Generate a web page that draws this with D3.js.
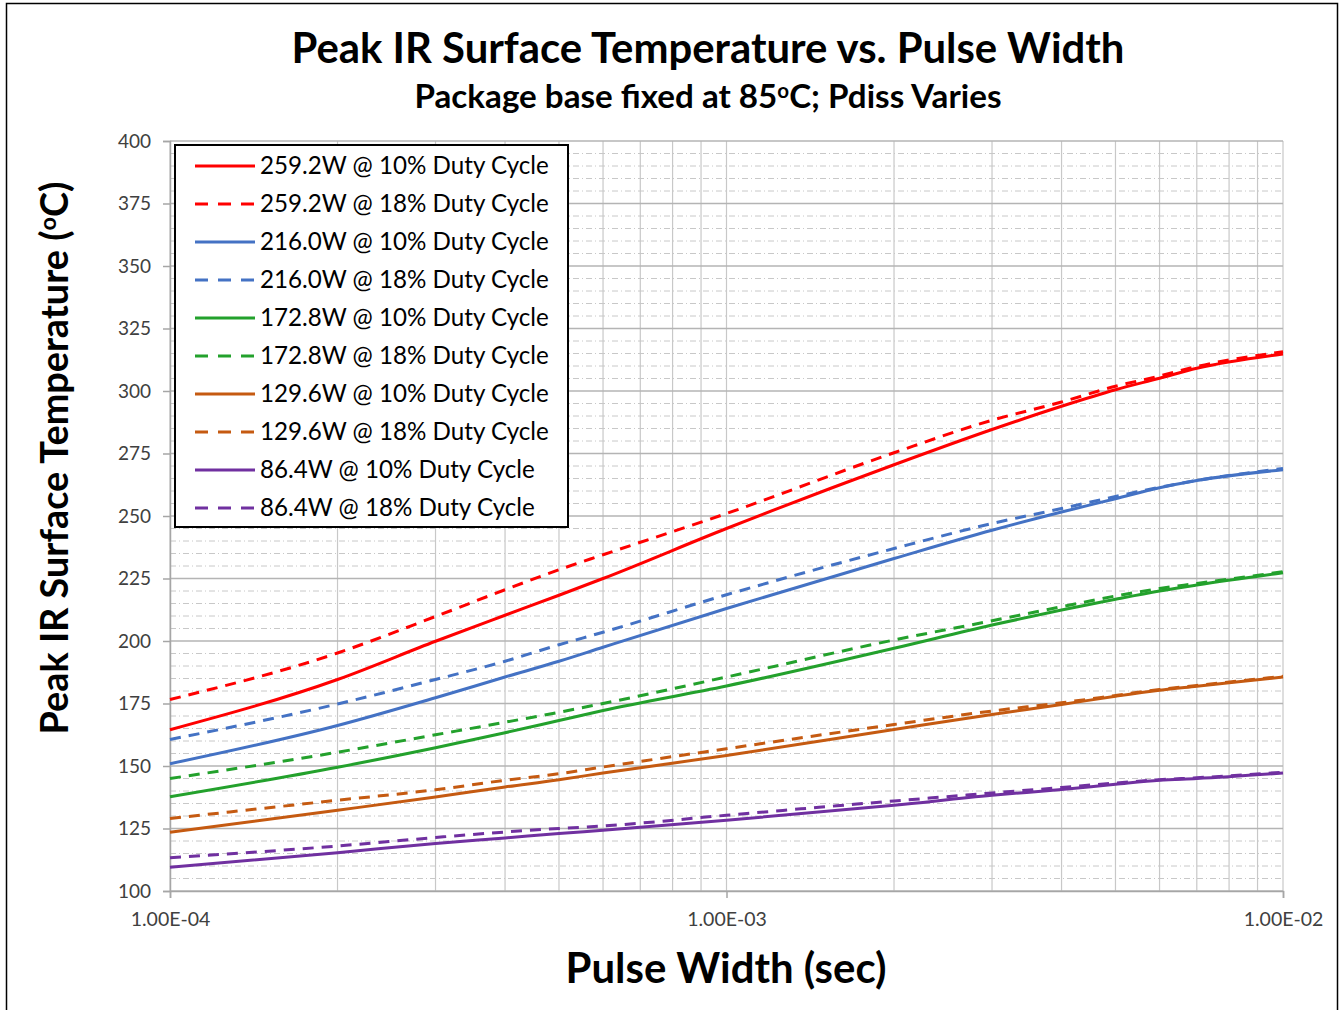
<!DOCTYPE html>
<html>
<head>
<meta charset="utf-8">
<script src="https://cdn.jsdelivr.net/npm/d3@7"></script>
<style>
  html, body { margin: 0; padding: 0; background: #fff; }
  svg { display: block; }
</style>
</head>
<body>
<svg id="chart" width="1339" height="1010"></svg>
<script>
// ---------- DATA ----------
const pulseWidths = [1e-4, 2e-4, 3e-4, 4e-4, 5e-4, 6e-4, 1e-3, 2e-3, 3e-3, 4e-3, 5e-3, 6e-3, 7e-3, 1e-2];

const w259_10 = [164.5, 184.6, 199.9, 210.3, 218.3, 225.0, 245.0, 270.5, 284.6, 293.9, 300.5, 305.1, 309.1, 314.8];
const w259_18 = [176.6, 195.2, 209.8, 220.5, 228.5, 234.5, 251.0, 275.3, 288.3, 295.6, 301.9, 306.0, 309.8, 315.7];
const w216_10 = [150.9, 166.2, 177.3, 185.6, 191.9, 197.5, 213.0, 233.0, 244.3, 251.6, 256.9, 261.3, 264.2, 268.5];
const w216_18 = [160.6, 174.8, 184.6, 191.9, 198.5, 203.5, 218.5, 237.0, 247.0, 253.0, 257.8, 261.5, 264.2, 269.0];
const w173_10 = [137.7, 149.5, 157.3, 163.3, 168.2, 172.2, 182.0, 197.1, 206.4, 212.4, 216.7, 220.0, 222.4, 227.3];
const w173_18 = [145.0, 155.5, 162.5, 167.5, 171.5, 175.0, 185.6, 200.4, 208.1, 213.7, 218.0, 221.0, 223.0, 227.7];
const w130_10 = [123.5, 132.3, 137.6, 141.6, 144.5, 147.2, 154.2, 164.6, 170.6, 174.6, 177.9, 180.3, 181.9, 185.6];
const w130_18 = [129.0, 136.3, 140.5, 144.3, 146.9, 149.6, 156.9, 166.6, 172.0, 175.3, 178.2, 180.6, 182.2, 185.9];
const w86_10  = [109.5, 115.3, 119.0, 121.2, 123.0, 124.3, 128.3, 134.3, 138.3, 140.6, 142.7, 144.3, 145.0, 147.2];
const w86_18  = [113.3, 118.0, 121.4, 123.6, 125.0, 126.0, 130.3, 136.0, 139.2, 141.4, 143.2, 144.5, 145.3, 147.5];

const seriesLabels = [
  "259.2W @ 10% Duty Cycle", "259.2W @ 18% Duty Cycle",
  "216.0W @ 10% Duty Cycle", "216.0W @ 18% Duty Cycle",
  "172.8W @ 10% Duty Cycle", "172.8W @ 18% Duty Cycle",
  "129.6W @ 10% Duty Cycle", "129.6W @ 18% Duty Cycle",
  "86.4W @ 10% Duty Cycle",  "86.4W @ 18% Duty Cycle"
];
const seriesValues = [w259_10, w259_18, w216_10, w216_18, w173_10, w173_18, w130_10, w130_18, w86_10, w86_18];
const seriesColors = ["#ff0000", "#ff0000", "#4472c4", "#4472c4", "#23a12c", "#23a12c", "#c55a11", "#c55a11", "#7030a0", "#7030a0"];
const seriesDashed = [false, true, false, true, false, true, false, true, false, true];

const yTicks = [100, 125, 150, 175, 200, 225, 250, 275, 300, 325, 350, 375, 400];
const xTicks = [1e-4, 1e-3, 1e-2];
const xTickLabels = ["1.00E-04", "1.00E-03", "1.00E-02"];

const titleText = "Peak IR Surface Temperature vs. Pulse Width";
const xAxisTitle = "Pulse Width (sec)";

// ---------- DRAWING ----------
(function () {
const svg = d3.select("#chart");
const pL = 170, pR = 1283, pT = 141, pB = 891;
const FONT = "Lato, 'Open Sans', 'Noto Sans', sans-serif";

const x = d3.scaleLog().domain([1e-4, 1e-2]).range([pL, pR]);
const y = d3.scaleLinear().domain([100, 400]).range([pB, pT]);

function fitWidth(sel, target) {
  const node = sel.node();
  const fs = parseFloat(sel.attr("font-size"));
  const w = node.getBBox().width;
  if (w > 0) sel.attr("font-size", fs * target / w);
}

// outer border
svg.append("rect").attr("x", 6.5).attr("y", 3.5).attr("width", 1331).attr("height", 1012)
  .attr("fill", "#fff").attr("stroke", "#000").attr("stroke-width", 1.5);

const grid = svg.append("g");
const minorY = d3.range(105, 400, 5).filter(v => v % 25 !== 0);
grid.selectAll(".hminor").data(minorY).join("line")
  .attr("x1", pL).attr("x2", pR)
  .attr("y1", d => y(d)).attr("y2", d => y(d))
  .attr("stroke", "#c8c8c8").attr("stroke-width", 1)
  .attr("stroke-dasharray", "6,3,1,3");
const vGrid = [];
[1e-4, 1e-3].forEach(dec => { for (let k = 1; k <= 9; k++) vGrid.push(dec * k); });
vGrid.push(1e-2);
grid.selectAll(".vgrid").data(vGrid).join("line")
  .attr("x1", d => x(d)).attr("x2", d => x(d))
  .attr("y1", pT).attr("y2", pB)
  .attr("stroke", "#c8c8c8").attr("stroke-width", 1.2);
grid.selectAll(".hmajor").data(yTicks).join("line")
  .attr("x1", pL).attr("x2", pR)
  .attr("y1", d => y(d)).attr("y2", d => y(d))
  .attr("stroke", "#b4b4b4").attr("stroke-width", 1.5);

// axes
const yAxis = d3.axisLeft(y).tickValues(yTicks).tickSize(7).tickPadding(12).tickFormat(d3.format("d"));
const gy = svg.append("g").attr("transform", `translate(${pL},0)`).call(yAxis);
gy.select(".domain").attr("stroke", "#a6a6a6").attr("stroke-width", 1.5);
gy.selectAll(".tick line").attr("stroke", "#a6a6a6").attr("stroke-width", 1.5);
gy.selectAll(".tick text").attr("font-family", FONT).attr("font-size", 19).attr("fill", "#404040");

const xAxis = d3.axisBottom(x).tickValues(xTicks).tickSize(7).tickPadding(14)
  .tickFormat((d, i) => xTickLabels[i]);
const gx = svg.append("g").attr("transform", `translate(0,${pB})`).call(xAxis);
gx.select(".domain").attr("stroke", "#a6a6a6").attr("stroke-width", 1.5);
gx.selectAll(".tick line").attr("stroke", "#a6a6a6").attr("stroke-width", 1.5);
gx.selectAll(".tick text").attr("font-family", FONT).attr("font-size", 19.5).attr("fill", "#404040");

// series lines
const line = d3.line()
  .x((d, i) => x(pulseWidths[i]))
  .y(d => y(d))
  .curve(d3.curveMonotoneX);

const plot = svg.append("g");
seriesValues.forEach((vals, s) => {
  plot.append("path")
    .datum(vals)
    .attr("d", line)
    .attr("fill", "none")
    .attr("stroke", seriesColors[s])
    .attr("stroke-width", 3)
    .attr("stroke-dasharray", seriesDashed[s] ? "11,8" : null);
});

// legend
const lg = svg.append("g");
lg.append("rect").attr("x", 175).attr("y", 145).attr("width", 393).attr("height", 382)
  .attr("fill", "#fff").attr("stroke", "#000").attr("stroke-width", 2);
const rowY0 = 166, rowStep = 38;
seriesLabels.forEach((lab, i) => {
  const yy = rowY0 + i * rowStep;
  lg.append("line").attr("x1", 195).attr("x2", 255).attr("y1", yy).attr("y2", yy)
    .attr("stroke", seriesColors[i]).attr("stroke-width", 3)
    .attr("stroke-dasharray", seriesDashed[i] ? "13,10" : null);
  lg.append("text").attr("class", "legtext").attr("x", 260).attr("y", yy)
    .attr("dy", "0.35em").attr("font-family", FONT).attr("font-size", 22)
    .attr("fill", "#000").text(lab);
});
{
  const t0 = lg.select(".legtext");
  const w = t0.node().getBBox().width;
  const fs = 22 * 289 / w;
  lg.selectAll(".legtext").attr("font-size", fs);
}

// title
const title = svg.append("text").attr("x", 708).attr("y", 63).attr("text-anchor", "middle")
  .attr("font-family", FONT).attr("font-weight", "bold").attr("font-size", 40)
  .attr("fill", "#000").text(titleText);
fitWidth(title, 833);

// subtitle with superscript o
const sub = svg.append("text").attr("x", 708).attr("y", 108).attr("text-anchor", "middle")
  .attr("font-family", FONT).attr("font-weight", "bold").attr("font-size", 30).attr("fill", "#000");
sub.append("tspan").text("Package base fixed at 85");
sub.append("tspan").attr("dy", -10).attr("font-size", "0.62em").text("o");
sub.append("tspan").attr("dy", 10).text("C; Pdiss Varies");
fitWidth(sub, 587);

// y axis title
const yt = svg.append("text").attr("transform", "translate(68,458) rotate(-90)")
  .attr("text-anchor", "middle").attr("font-family", FONT).attr("font-weight", "bold")
  .attr("font-size", 36).attr("fill", "#000");
yt.append("tspan").text("Peak IR Surface Temperature (");
yt.append("tspan").attr("dy", -12).attr("font-size", "0.62em").text("o");
yt.append("tspan").attr("dy", 12).text("C)");
fitWidth(yt, 553);
{
  const fs = parseFloat(yt.attr("font-size"));
  yt.selectAll("tspan").filter((d, i) => i === 1).attr("dy", -fs * 0.33);
  yt.selectAll("tspan").filter((d, i) => i === 2).attr("dy", fs * 0.33);
}

// x axis title
const xt = svg.append("text").attr("x", 726).attr("y", 983).attr("text-anchor", "middle")
  .attr("font-family", FONT).attr("font-weight", "bold").attr("font-size", 40)
  .attr("fill", "#000").text(xAxisTitle);
fitWidth(xt, 321);
})();
</script>
</body>
</html>
